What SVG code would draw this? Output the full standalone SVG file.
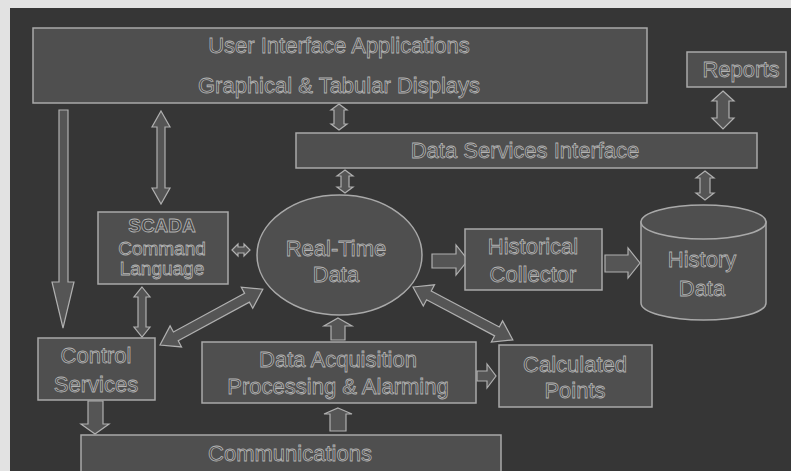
<svg xmlns="http://www.w3.org/2000/svg" width="791" height="471" viewBox="0 0 791 471">
<style>
.box{fill:#4f4f4f;stroke:#a9a9a9;stroke-width:1.5}
.arr{fill:#555;stroke:#b0b0b0;stroke-width:1.2;stroke-linejoin:miter}
.t{font-family:"Liberation Sans",Arial,sans-serif;font-size:22px;fill:#444;stroke:#b4b4b4;stroke-width:0.8;text-anchor:middle}
.s{font-size:19px}
.b{font-weight:bold}
</style>
<rect x="0" y="0" width="791" height="471" fill="#e2e2e2"/>
<rect x="10" y="8" width="781" height="463" fill="#363636"/>

<g id="connectors">
<polygon class="arr" points="59,110 68,110 68,282 74,282 63,328 52,282 59,282"/>
<polygon class="arr" points="161,111 170,127 165,127 165,188 170,188 161,204 152,188 157,188 157,127 152,127"/>
<polygon class="arr" points="339,104 347,110 344,110 344,124 347,124 339,130 331,124 334,124 334,110 331,110"/>
<polygon class="arr" points="345,170 353,176 349,176 349,187 353,187 345,193 337,187 341,187 341,176 337,176"/>
<polygon class="arr" points="723,91 734,101 729,101 729,118 734,118 723,129 712,118 717,118 717,101 712,101"/>
<polygon class="arr" points="705,171 714,178 710,178 710,193 714,193 705,200 696,193 700,193 700,178 696,178"/>
<polygon class="arr" points="232,250 238,244 238,247 244,247 244,244 250,250 244,256 244,253 238,253 238,256"/>
<polygon class="arr" points="142,287 150,297 146,297 146,327 150,327 142,337 134,327 138,327 138,297 134,297"/>
<polygon class="arr" transform="translate(160,345) rotate(-28.5)" points="0,0 18,-12 18,-5 99,-5 99,-12 117,0 99,12 99,5 18,5 18,12"/>
<polygon class="arr" transform="translate(413,287) rotate(27.9)" points="0,0 18,-12 18,-5 95,-5 95,-12 113,0 95,12 95,5 18,5 18,12"/>
<polygon class="arr" points="338,318 352,326 345,326 345,340 331,340 331,326 324,326"/>
<polygon class="arr" points="338,408 352,414 346,414 346,431 330,431 330,414 324,414"/>
<polygon class="arr" points="88,401 103,401 103,424 109,424 95,434 81,424 88,424"/>
<polygon class="arr" points="432,254 456,254 456,245 468,260 456,275 456,268 432,268"/>
<polygon class="arr" points="605,255 628,255 628,248 640,263 628,278 628,272 605,272"/>
<polygon class="arr" points="477,371 487,371 487,364 496,376 487,388 487,381 477,381"/>
</g>

<g id="ui">
<rect class="box" x="33" y="28" width="614" height="75"/>
<text class="t" x="339" y="53">User Interface Applications</text>
<text class="t" x="339" y="93">Graphical &amp; Tabular Displays</text>
</g>
<g id="reports">
<rect class="box" x="687" y="52" width="99" height="35"/>
<text class="t" x="741" y="77">Reports</text>
</g>
<g id="dsi">
<rect class="box" x="296" y="133" width="461" height="35"/>
<text class="t" x="525" y="158">Data Services Interface</text>
</g>
<g id="scada">
<rect class="box" x="98" y="212" width="130" height="72"/>
<text class="t s b" x="162" y="232">SCADA</text>
<text class="t s" x="162" y="255">Command</text>
<text class="t s" x="162" y="275">Language</text>
</g>
<g id="rtd">
<ellipse class="box" cx="339.5" cy="255" rx="82.5" ry="60"/>
<text class="t" x="336" y="256">Real-Time</text>
<text class="t" x="336" y="282">Data</text>
</g>
<g id="historical">
<rect class="box" x="465" y="229" width="137" height="61"/>
<text class="t" x="533" y="254">Historical</text>
<text class="t" x="533" y="282">Collector</text>
</g>
<g id="history">
<path class="box" d="M641,222 L641,303 A62.5,17 0 0 0 766,303 L766,222 Z"/>
<ellipse class="box" cx="703.5" cy="222" rx="62.5" ry="17"/>
<text class="t" x="702" y="267">History</text>
<text class="t" x="702" y="296">Data</text>
</g>
<g id="control">
<rect class="box" x="38" y="338" width="117" height="62"/>
<text class="t" x="96" y="363">Control</text>
<text class="t" x="96" y="392">Services</text>
</g>
<g id="daq">
<rect class="box" x="202" y="342" width="274" height="61"/>
<text class="t" x="338" y="367">Data Acquisition</text>
<text class="t" x="338" y="394">Processing &amp; Alarming</text>
</g>
<g id="calc">
<rect class="box" x="499" y="345" width="153" height="62"/>
<text class="t" x="575" y="372">Calculated</text>
<text class="t" x="575" y="398">Points</text>
</g>
<g id="comms">
<rect class="box" x="81" y="435" width="420" height="45"/>
<text class="t" x="290" y="461">Communications</text>
</g>
</svg>
